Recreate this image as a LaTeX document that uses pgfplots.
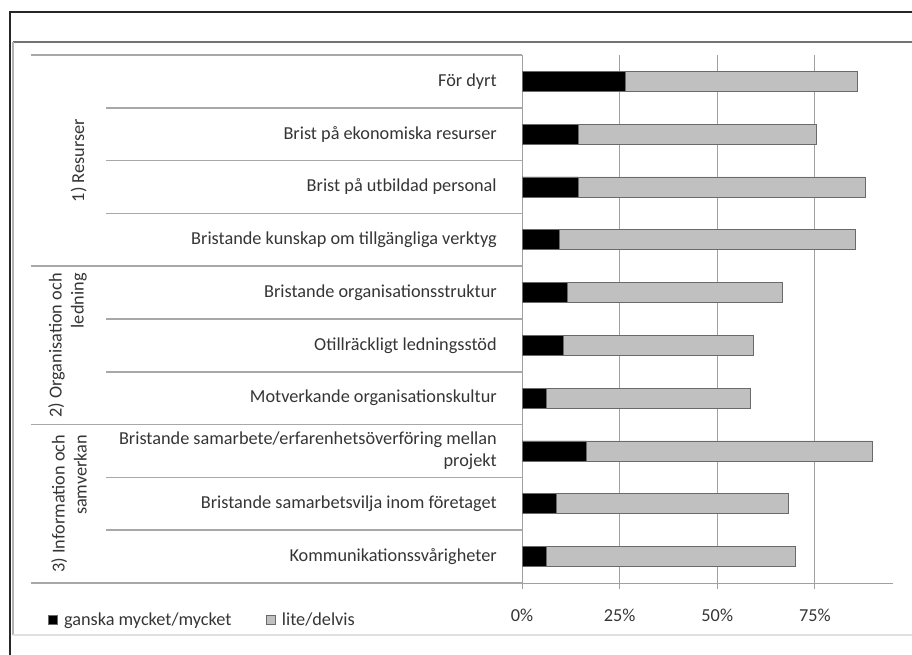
\documentclass[border=0pt]{standalone}
\usepackage{pgfplots}
\pgfplotsset{compat=1.18}
\usepackage{fontspec}
\setmainfont{Carlito}
\definecolor{txt}{HTML}{353535}
\definecolor{barfill}{HTML}{C0C0C0}
\definecolor{baredge}{HTML}{6A6A6A}
\definecolor{gridc}{HTML}{A0A0A0}
\definecolor{sepc}{HTML}{A8A8A8}
\newcommand{\lbl}{\fontsize{13.7pt}{16.5pt}\selectfont}
\begin{document}
\begin{tikzpicture}
\useasboundingbox (0pt,0pt) rectangle (684pt,-491.25pt);
\begin{axis}[
  at={(391.5pt,-437.25pt)}, anchor=south west,
  width=278.25pt, height=396pt, scale only axis,
  xmin=0, xmax=95, ymin=0.5, ymax=10.5,
  xbar stacked, bar width=0.38,
  axis x line*=bottom, axis y line*=left,
  x axis line style={gridc, line width=0.75pt, -},
  y axis line style={gridc, line width=0.75pt, -},
  xtick={0,25,50,75},
  xticklabel={\pgfmathprintnumber{\tick}\%},
  /pgf/number format/assume math mode=true,
  xticklabel style={font=\lbl, text=txt, yshift=-11.25pt},
  xmajorgrids, grid style={gridc, line width=0.75pt},
  tick align=outside, major tick length=4.5pt,
  xtick style={gridc, line width=0.75pt},
  ytick={1,...,10},
  ytick style={draw=none},
  yticklabels={Kommunikationssvårigheter, Bristande samarbetsvilja inom företaget, {Bristande samarbete/erfarenhetsöverföring mellan\\projekt}, Motverkande organisationskultur, Otillräckligt ledningsstöd, Bristande organisationsstruktur, Bristande kunskap om tillgängliga verktyg, Brist på utbildad personal, Brist på ekonomiska resurser, För dyrt},
  yticklabel style={font=\lbl, text=txt, align=right, inner sep=0pt, xshift=-14.25pt},
  legend columns=2,
  legend style={at={(-1.2776,-0.0701)}, anchor=west, draw=none, fill=none, font=\lbl, text=txt,
    inner sep=0pt, nodes={inner sep=0pt},
    /tikz/every odd column/.append style={column sep=4.5pt},
    /tikz/every even column/.append style={column sep=26pt}},
]
\addplot[fill=black, draw=baredge, line width=0.6pt,
  legend image code/.code={\draw[fill=black, draw=baredge, line width=0.6pt] (0pt,-3.4pt) rectangle (6.75pt,3.4pt);}]
  coordinates {(26.5,10) (14.4,9) (14.4,8) (9.5,7) (11.6,6) (10.6,5) (6.3,4) (16.5,3) (8.9,2) (6.3,1)};
\addlegendentry{ganska mycket/mycket}
\addplot[fill=barfill, draw=baredge, line width=0.6pt,
  legend image code/.code={\draw[fill=barfill, draw=baredge, line width=0.6pt] (0pt,-3.4pt) rectangle (6.75pt,3.4pt);}]
  coordinates {(59.4,10) (61.1,9) (73.5,8) (75.8,7) (55.0,6) (48.7,5) (52.2,4) (73.1,3) (59.2,2) (63.6,1)};
\addlegendentry{lite/delvis}
\end{axis}
\begin{scope}[x=0.75pt, y=-0.75pt]
  % frame
  \draw[black!85, line width=1.1pt] (10,660) -- (10,12) -- (920,12);
  \draw[black!55, line width=1.4pt] (13,42) -- (920,42);
  \draw[black!30, line width=0.8pt] (13,635) -- (13,42);
  \draw[black!12, line width=0.9pt] (13,635) -- (920,635);
  % separators
  \foreach \yy in {55,266.2,424.6,583} \draw[sepc, line width=1.1pt] (31,\yy) -- (522,\yy);
  \foreach \yy in {107.8,160.6,213.4,319,371.8,477.4,530.2} \draw[sepc, line width=1.1pt] (106,\yy) -- (522,\yy);
  % group labels
  \node[rotate=90, anchor=south, align=right, inner sep=0pt, font=\lbl, text=txt] at (87,160.6) {1) Resurser};
  \node[rotate=90, anchor=south, align=right, inner sep=0pt, font=\lbl, text=txt] at (87,345.4) {2) Organisation och\\ledning};
  \node[rotate=90, anchor=south, align=right, inner sep=0pt, font=\lbl, text=txt] at (87,503.8) {3) Information och\\samverkan};
\end{scope}
\end{tikzpicture}
\end{document}
